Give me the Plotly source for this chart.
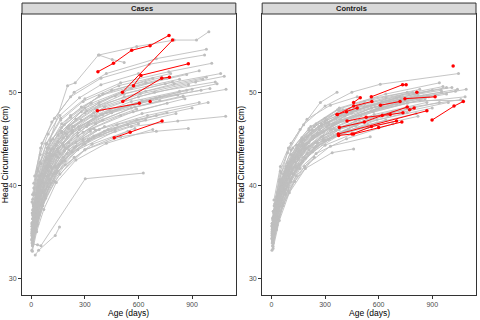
import plotly.graph_objects as go
from plotly.subplots import make_subplots

# ---- Cases: grey subjects (age in days, head circumference in cm)
cases_age = [
    [3, 30, 70, 150, 290, 500, 760],
    [8, 42, 95, 200, 360, 620, 900],
    [5, 25, 60, 120, 240, 430, 700],
    [12, 55, 110, 210, 380, 640, 960],
    [6, 35, 80, 160, 300, 540],
    [15, 50, 100, 180, 320, 580, 850],
    [4, 40, 90, 170, 280, 450, 730],
    [10, 30, 75, 140, 260, 470],
    [7, 45, 105, 190, 350, 600, 880],
    [20, 60, 130, 230, 400, 700, 1000],
    [3, 28, 65, 130, 250, 410],
    [9, 38, 85, 170, 310, 520, 790],
    [14, 50, 95, 160, 270, 390, 600],
    [5, 35, 90, 180, 290],
    [11, 45, 100, 200, 340, 560, 830, 1040],
    [6, 30, 70, 140, 250, 420, 680],
    [18, 55, 120, 220, 380, 640, 940],
    [4, 25, 55, 110, 210, 360, 590],
    [8, 40, 90, 175, 320, 540, 810],
    [13, 48, 105, 200, 360, 610, 920, 1080],
    [3, 32, 75, 150, 270, 450, 720],
    [10, 42, 95, 185, 330],
    [7, 36, 85, 165, 300, 500, 770, 1010],
    [16, 52, 110, 210, 380, 650, 990],
    [5, 27, 60, 120, 230, 390, 620, 870],
    [9, 44, 100, 190, 340, 580],
    [12, 40, 90, 170, 300, 520, 830],
    [4, 30, 68, 140, 260],
    [20, 58, 125, 230, 410, 690, 1030],
    [6, 33, 78, 155, 290, 480, 760],
    [8, 40, 95, 180, 310, 560, 850, 1090],
    [3, 25, 58, 115, 210, 350],
    [15, 50, 110, 220, 400, 680],
    [10, 46, 105, 200, 350, 590, 900],
    [5, 35, 85, 170, 300, 520, 800, 980],
    [7, 30, 70, 140, 240, 400],
    [11, 45, 100, 190, 330, 570, 860],
    [4, 26, 62, 125, 230, 380, 600],
    [14, 52, 115, 220, 390, 660, 970],
    [6, 38, 90, 175, 320, 540, 820],
    [9, 33, 75, 150, 280, 470, 750, 1060],
    [3, 28, 65, 130, 240],
    [17, 54, 120, 230, 420, 720],
    [8, 36, 85, 165, 290, 490, 780],
    [5, 40, 100, 200, 360, 620, 940],
    [12, 48, 110, 210, 370],
    [4, 30, 72, 145, 265, 440, 700, 950],
    [10, 44, 98, 185, 335, 575, 870],
    [7, 32, 72, 140, 250, 410, 640],
    [19, 60, 130, 240, 420, 700, 980],
    [7, 35, 54, 302, 627],
    [22, 41, 134, 158],
    [90, 203, 246, 376, 453, 520],
    [380, 590, 800, 925, 994],
    [25, 80, 170, 320, 560, 820, 1088],
    [10, 60, 150, 300, 500, 700, 879],
    [2, 20, 45, 90, 160, 260, 400],
    [6, 22, 50, 100, 180, 280],
    [14, 40, 80, 150, 250, 380, 560, 760],
    [9, 28, 60, 110, 190, 300, 470],
]
cases_hc = [
    [35.0, 37.5, 39.9, 43.0, 45.7, 47.5, 48.8],
    [36.4, 39.3, 42.2, 45.2, 47.4, 49.1, 50.3],
    [34.3, 36.1, 38.5, 41.2, 44.0, 46.0, 47.5],
    [37.8, 41.2, 43.8, 46.4, 48.6, 50.1, 51.4],
    [33.5, 35.8, 38.6, 41.2, 43.8, 45.8],
    [36.7, 39.5, 42.0, 44.3, 46.5, 48.4, 49.6],
    [38.2, 41.0, 44.0, 46.6, 48.4, 50.2, 51.6],
    [34.4, 36.0, 38.8, 41.3, 43.8, 45.8],
    [36.8, 40.0, 43.1, 45.6, 47.8, 49.5, 50.8],
    [37.6, 40.3, 43.3, 45.6, 47.6, 49.3, 50.4],
    [34.6, 36.9, 39.3, 42.0, 44.6, 46.3],
    [37.4, 40.2, 43.0, 45.8, 48.0, 49.8, 51.1],
    [39.7, 43.3, 45.5, 47.5, 49.4, 50.8, 52.0],
    [34.2, 37.0, 40.2, 43.0, 45.0],
    [36.6, 39.7, 42.8, 45.5, 47.4, 49.0, 50.1, 50.9],
    [32.9, 35.0, 37.4, 40.3, 42.7, 44.5, 46.0],
    [39.0, 42.3, 45.0, 47.3, 49.6, 51.0, 52.3],
    [35.2, 37.2, 39.4, 42.0, 44.6, 46.6, 48.2],
    [34.4, 37.2, 39.8, 42.6, 44.9, 46.5, 47.7],
    [37.3, 40.5, 43.4, 46.2, 48.2, 49.8, 51.1, 51.7],
    [35.6, 38.3, 41.0, 43.6, 46.0, 47.8, 49.1],
    [35.4, 38.3, 41.0, 43.7, 45.8],
    [39.0, 41.8, 44.5, 47.2, 49.3, 51.0, 52.2, 53.1],
    [35.6, 38.9, 41.3, 43.8, 46.0, 47.5, 48.9],
    [36.0, 38.0, 40.5, 43.2, 45.8, 47.6, 49.0, 50.2],
    [33.8, 36.8, 39.8, 42.2, 44.4, 46.1],
    [37.7, 40.5, 43.5, 46.2, 48.3, 50.1, 51.4],
    [35.3, 37.8, 40.2, 43.2, 45.6],
    [37.9, 41.1, 43.9, 46.3, 48.4, 50.0, 51.1],
    [34.2, 37.0, 39.5, 42.2, 44.8, 46.5, 47.8],
    [35.6, 38.4, 41.5, 44.2, 46.3, 48.3, 49.5, 50.3],
    [34.8, 36.8, 39.2, 41.8, 44.2, 46.1],
    [39.2, 42.5, 44.8, 47.5, 49.8, 51.5],
    [35.2, 37.8, 40.6, 43.4, 45.3, 47.0, 48.3],
    [37.0, 39.5, 42.8, 45.6, 47.8, 49.5, 50.9, 51.6],
    [36.4, 38.8, 41.2, 44.3, 46.3, 48.1],
    [35.8, 38.6, 41.1, 44.0, 46.0, 47.9, 49.3],
    [33.8, 35.7, 38.1, 41.2, 43.6, 45.4, 46.6],
    [40.2, 44.0, 46.8, 49.5, 51.5, 53.0, 54.0],
    [35.8, 38.7, 41.8, 44.5, 46.7, 48.5, 49.7],
    [37.3, 39.8, 42.6, 45.4, 47.9, 49.6, 50.9, 52.0],
    [33.0, 35.2, 37.8, 40.4, 43.0],
    [37.2, 40.3, 43.2, 45.9, 47.8, 49.5],
    [38.5, 41.5, 44.4, 47.0, 49.0, 50.7, 52.0],
    [34.8, 37.9, 40.6, 44.0, 45.9, 47.7, 48.9],
    [37.0, 40.4, 43.8, 46.1, 48.1],
    [35.9, 38.4, 41.2, 43.9, 46.3, 48.1, 49.4, 50.2],
    [38.0, 41.0, 44.0, 46.5, 48.8, 50.6, 51.9],
    [34.0, 36.5, 39.1, 42.0, 44.2, 45.8, 47.0],
    [41.0, 44.5, 47.2, 50.0, 52.0, 53.6, 54.6],
    [33.7, 33.6, 33.5, 40.7, 41.3],
    [32.5, 33.0, 34.6, 35.5],
    [44.0, 50.7, 51.0, 54.0, 53.5, 53.2],
    [54.0, 54.9, 55.6, 55.6, 56.5],
    [35.5, 39.0, 42.5, 44.8, 46.3, 46.9, 47.4],
    [34.5, 37.8, 41.5, 43.8, 45.2, 45.8, 46.1],
    [34.1, 36.0, 38.2, 41.0, 43.4, 45.3, 47.0],
    [35.8, 37.4, 39.9, 42.6, 45.1, 47.0],
    [36.9, 39.4, 41.9, 44.7, 47.1, 48.9, 50.4, 51.5],
    [33.6, 35.6, 37.9, 40.2, 42.6, 44.4, 46.1],
]

# ---- Cases: red (highlighted) subjects
cases_red_age = [
    [373, 460, 562, 665, 771],
    [510, 791],
    [572, 614, 879],
    [512, 730, 773],
    [370, 605],
    [665],
    [464, 553, 732],
]
cases_red_hc = [
    [52.2, 53.1, 54.5, 55.0, 56.1],
    [50.0, 55.6],
    [50.7, 51.8, 53.05],
    [49.0, 51.5, 51.6],
    [48.0, 48.8],
    [49.0],
    [45.1, 45.7, 46.9],
]

# ---- Controls: grey subjects
controls_age = [
    [3, 30, 70, 150, 290, 500, 760],
    [8, 42, 95, 200, 360, 620, 900],
    [5, 25, 60, 120, 240, 430],
    [12, 55, 110, 210, 380, 640, 960],
    [6, 35, 80, 160, 300, 540, 820],
    [15, 50, 100, 180, 320, 580, 850],
    [4, 40, 90, 170, 280, 450, 730, 1041],
    [10, 30, 75, 140, 260, 470],
    [7, 45, 105, 190, 350, 600, 880],
    [20, 60, 130, 230, 400, 700, 1084],
    [3, 28, 65, 130, 250, 410, 680],
    [9, 38, 85, 170, 310, 520, 790],
    [14, 50, 95, 160, 274, 367],
    [5, 35, 90, 180, 290, 470],
    [11, 45, 100, 200, 340, 560, 830, 1070],
    [6, 30, 70, 140, 250, 420, 680],
    [18, 55, 120, 220, 380, 640, 940],
    [4, 25, 55, 110, 210, 360, 590],
    [8, 40, 90, 175, 320, 540, 810],
    [10, 45, 90, 180, 300, 450, 609, 1047],
    [3, 32, 75, 150, 270, 450, 720],
    [10, 42, 95, 185, 330, 553],
    [7, 36, 85, 165, 300, 500, 770, 1010],
    [16, 52, 110, 210, 380, 650, 990],
    [5, 27, 60, 120, 230, 390, 620, 870],
    [9, 44, 100, 190, 340, 460],
    [12, 40, 90, 170, 300, 520, 830],
    [4, 30, 68, 140, 260],
    [20, 58, 125, 230, 410, 690, 1030],
    [6, 33, 78, 155, 290, 480, 760],
    [8, 40, 95, 180, 310, 560, 850, 1090],
    [3, 25, 58, 115, 210, 350],
    [15, 50, 110, 199, 330, 480],
    [10, 46, 105, 200, 350, 590, 900],
    [5, 35, 85, 170, 300, 520, 800, 980],
    [7, 30, 70, 140, 240, 400],
    [11, 45, 100, 190, 330, 570, 860],
    [4, 26, 62, 125, 230, 380, 600],
    [14, 52, 115, 220, 390, 660, 953],
    [6, 38, 90, 175, 320, 540, 820],
    [9, 33, 75, 150, 280, 470, 750, 1060],
    [3, 28, 65, 130, 240],
    [17, 54, 120, 230, 420, 720],
    [8, 36, 85, 165, 290, 490, 780],
    [5, 40, 100, 200, 360, 620, 940],
    [12, 48, 110, 210, 370],
    [4, 30, 72, 145, 265, 440, 700, 950],
    [10, 44, 98, 185, 335, 575, 870],
    [7, 32, 72, 140, 250, 410, 640],
    [19, 60, 130, 240, 420, 700, 980],
    [2, 20, 45, 90, 160, 260, 400],
    [6, 22, 50, 100, 180, 280],
    [14, 40, 80, 150, 250, 380, 560, 760],
    [9, 28, 60, 110, 190, 300, 470],
]
controls_hc = [
    [35.0, 37.5, 39.9, 43.0, 45.7, 47.5, 48.8],
    [36.2, 38.9, 42.0, 45.2, 47.2, 49.0, 50.2],
    [34.0, 35.9, 38.5, 41.2, 44.0, 46.0],
    [37.2, 40.6, 43.3, 45.9, 48.0, 49.4, 50.6],
    [33.9, 36.3, 39.0, 41.8, 44.3, 46.2, 47.4],
    [36.7, 39.5, 42.0, 44.3, 46.5, 48.4, 49.6],
    [35.7, 38.8, 41.8, 44.2, 46.4, 48.0, 49.3, 50.3],
    [35.0, 36.7, 39.5, 41.9, 44.5, 46.4],
    [35.6, 38.8, 41.9, 44.4, 46.6, 48.3, 49.5],
    [37.0, 39.7, 42.8, 45.0, 47.0, 48.7, 49.5],
    [34.6, 36.9, 39.3, 42.0, 44.6, 46.3, 47.9],
    [36.4, 39.2, 42.0, 44.8, 47.0, 48.7, 50.0],
    [38.4, 42.0, 44.0, 46.0, 48.9, 50.0],
    [34.2, 37.0, 40.2, 43.0, 45.0, 46.4],
    [35.6, 38.7, 41.8, 44.5, 46.4, 48.0, 49.1, 49.1],
    [33.5, 35.7, 38.1, 41.0, 43.4, 45.0, 46.6],
    [38.0, 41.3, 44.0, 46.3, 48.3, 49.8, 51.0],
    [35.2, 37.2, 39.4, 42.0, 44.6, 46.6, 48.2],
    [34.4, 37.2, 39.8, 42.6, 44.9, 46.5, 47.7],
    [37.2, 40.6, 43.5, 46.5, 48.5, 50.0, 50.85, 52.0],
    [35.6, 38.3, 41.0, 43.6, 46.0, 47.8, 49.1],
    [33.8, 36.6, 39.4, 42.0, 44.2, 45.2],
    [36.5, 39.3, 42.0, 44.8, 46.9, 48.6, 49.8, 50.5],
    [35.6, 38.9, 41.3, 43.8, 46.0, 47.5, 48.9],
    [35.4, 37.5, 39.9, 42.6, 45.2, 47.0, 48.4, 49.6],
    [33.2, 36.2, 39.2, 41.8, 43.5, 43.9],
    [36.6, 39.4, 42.4, 45.1, 47.2, 49.0, 50.3],
    [35.3, 37.8, 40.2, 43.2, 45.6],
    [36.9, 40.1, 42.9, 45.3, 47.4, 49.0, 50.1],
    [34.2, 37.0, 39.5, 42.2, 44.8, 46.5, 47.8],
    [35.6, 38.4, 41.5, 44.2, 46.3, 48.3, 49.5, 50.3],
    [34.8, 36.8, 39.2, 41.8, 44.2, 46.1],
    [37.8, 41.5, 44.5, 47.1, 48.6, 49.5],
    [35.2, 37.8, 40.6, 43.4, 45.3, 47.0, 48.3],
    [35.9, 38.4, 41.8, 44.6, 46.7, 48.4, 49.8, 50.5],
    [36.4, 38.8, 41.2, 44.3, 46.3, 48.1],
    [35.8, 38.6, 41.1, 44.0, 46.0, 47.9, 49.3],
    [33.8, 35.7, 38.1, 41.2, 43.6, 45.4, 46.6],
    [36.8, 40.5, 42.8, 45.6, 47.6, 49.0, 50.0],
    [35.8, 38.7, 41.8, 44.5, 46.7, 48.5, 49.7],
    [34.8, 37.2, 40.0, 42.8, 45.2, 46.9, 48.3, 49.2],
    [33.0, 35.2, 37.8, 40.4, 43.0],
    [37.2, 40.3, 43.2, 45.9, 47.8, 49.5],
    [34.8, 37.6, 40.6, 43.3, 45.3, 47.0, 48.2],
    [34.6, 37.6, 40.8, 44.0, 45.9, 47.6, 48.9],
    [37.0, 40.4, 43.8, 46.1, 48.1],
    [35.9, 38.4, 41.2, 43.9, 46.3, 48.1, 49.4, 50.2],
    [35.3, 38.3, 41.1, 43.8, 45.9, 47.6, 48.9],
    [34.0, 36.5, 39.1, 42.0, 44.2, 45.8, 47.0],
    [36.6, 39.8, 42.5, 45.3, 47.1, 48.8, 49.8],
    [34.3, 36.2, 38.5, 41.3, 43.7, 45.5, 46.9],
    [35.6, 37.2, 39.7, 42.4, 44.9, 46.6],
    [36.5, 39.0, 41.6, 44.3, 46.6, 48.2, 49.3, 50.0],
    [33.4, 35.5, 37.8, 40.4, 42.9, 44.8, 46.5],
]

# ---- Controls: red (highlighted) subjects
controls_red_age = [
    [559, 734, 754],
    [460, 497],
    [1017],
    [814],
    [747, 916],
    [369, 460, 562],
    [374, 870],
    [899, 1022, 1074],
    [773, 799],
    [423, 530, 665, 736],
    [376, 451, 560, 700],
    [367, 420, 480],
    [460, 600, 730],
    [380, 520, 620, 760],
    [610, 720],
]
controls_red_hc = [
    [49.5, 50.8, 50.8],
    [48.9, 49.4],
    [52.8],
    [50.0],
    [49.3, 49.5],
    [47.6, 48.5, 49.0],
    [45.5, 48.0],
    [47.0, 48.5, 49.0],
    [48.1, 48.3],
    [46.9, 47.3, 47.6, 47.8],
    [45.35, 45.5, 46.3, 46.9],
    [47.6, 47.9, 48.3],
    [45.5, 46.2, 46.8],
    [46.2, 46.8, 47.5, 48.4],
    [48.6, 49.0],
]

panel_titles = ["Cases", "Controls"]
x_ticks = [0, 300, 600, 900]
y_ticks = [30, 40, 50]

GREY = "#bebebe"
RED = "#ff0000"
FONT = "Liberation Sans, Arial, sans-serif"


def join_subjects(ages, hcs):
    # put all subjects into one trace, separated by None
    xs, ys = [], []
    for a, h in zip(ages, hcs):
        xs += list(a) + [None]
        ys += list(h) + [None]
    return xs, ys


fig = make_subplots(rows=1, cols=2, horizontal_spacing=0.058)

groups = [
    (cases_age, cases_hc, cases_red_age, cases_red_hc),
    (controls_age, controls_hc, controls_red_age, controls_red_hc),
]
for col, (ga, gh, ra, rh) in enumerate(groups, start=1):
    gx, gy = join_subjects(ga, gh)
    fig.add_trace(go.Scatter(x=gx, y=gy, mode="lines+markers",
                             line=dict(color=GREY, width=0.9),
                             marker=dict(color=GREY, size=3),
                             connectgaps=False, showlegend=False),
                  row=1, col=col)
    rx, ry = join_subjects(ra, rh)
    fig.add_trace(go.Scatter(x=rx, y=ry, mode="lines+markers",
                             line=dict(color=RED, width=1),
                             marker=dict(color=RED, size=3.5),
                             connectgaps=False, showlegend=False),
                  row=1, col=col)

axis_font = dict(family=FONT, size=7, color="#4d4d4d")
title_font = dict(family=FONT, size=8.5, color="black")
for col in (1, 2):
    fig.update_xaxes(range=[-52, 1145], tickvals=x_ticks, ticks="outside", ticklen=2.5,
                     tickcolor="#333333", showgrid=False, zeroline=False, automargin=False,
                     showline=True, mirror=True, linecolor="#333333", linewidth=1,
                     tickfont=axis_font, row=1, col=col)
    fig.update_yaxes(range=[28.2, 58.4], tickvals=y_ticks, ticks="outside", ticklen=3,
                     tickcolor="#333333", showgrid=False, zeroline=False, automargin=False,
                     showline=True, mirror=True, linecolor="#333333", linewidth=1,
                     tickfont=axis_font,
                     title=dict(text="Head Circumference (cm)", font=title_font, standoff=2),
                     row=1, col=col)

# facet strips and x titles
doms = [fig.layout.xaxis.domain, fig.layout.xaxis2.domain]
for d, name in zip(doms, panel_titles):
    mid = (d[0] + d[1]) / 2
    fig.add_shape(type="rect", xref="paper", yref="paper", x0=d[0], x1=d[1],
                  y0=1, y1=1.039, fillcolor="#d9d9d9", line=dict(color="#333333", width=1))
    fig.add_annotation(xref="paper", yref="paper", x=mid, y=1.0195,
                       text="<b>" + name + "</b>", showarrow=False,
                       font=dict(family=FONT, size=7.5, color="#1a1a1a"),
                       yanchor="middle")
    fig.add_annotation(xref="paper", yref="paper", x=mid, y=-0.0854,
                       text="Age (days)", showarrow=False, font=title_font,
                       yanchor="bottom", xanchor="center", borderpad=0)

fig.update_layout(width=480, height=320, margin=dict(l=22, r=4, t=14, b=25),
                  plot_bgcolor="white", paper_bgcolor="white", showlegend=False)

# the page body has a default 8px margin; drop it so the figure sits at 0,0
fig.write_html("out.html", config={"displayModeBar": False},
               post_script="document.body.style.margin='0';")
